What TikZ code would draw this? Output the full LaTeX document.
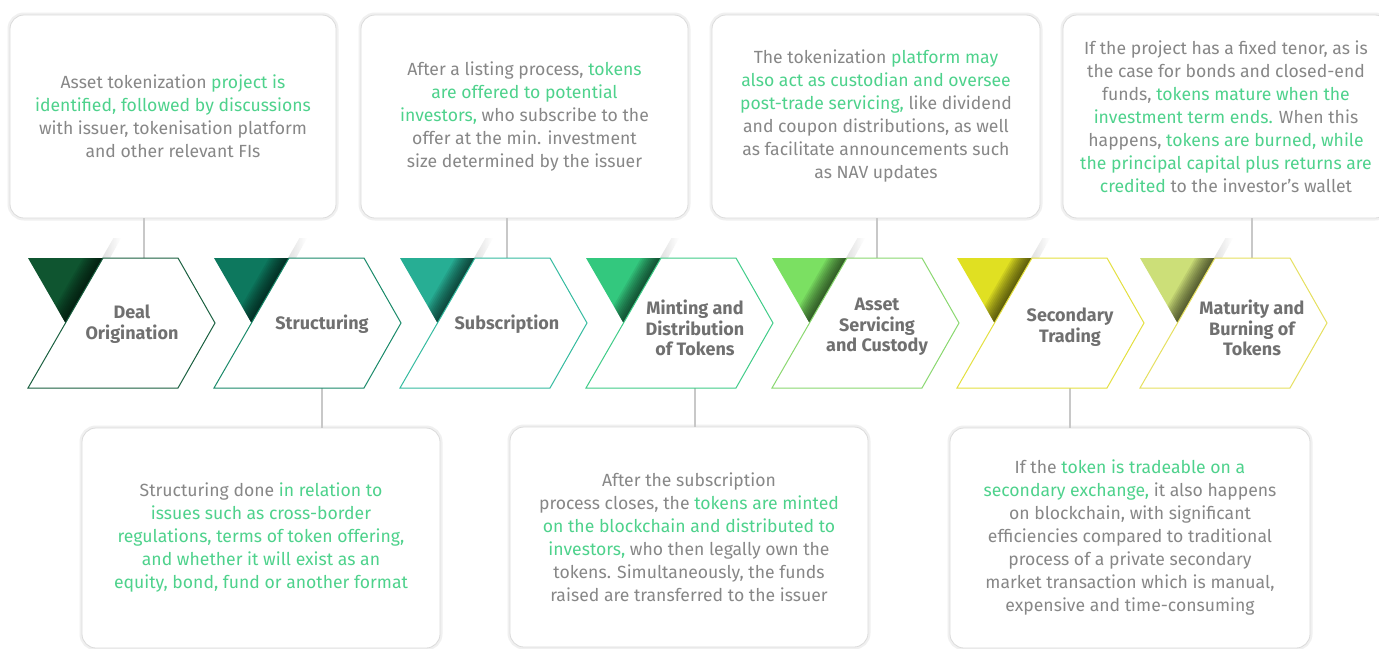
\documentclass[tikz,border=0pt]{standalone}
\usepackage{fontspec}
\setmainfont{Fira Sans}
\definecolor{txt}{HTML}{878787}
\definecolor{hl}{HTML}{4ED28C}
\definecolor{labc}{HTML}{707070}
\definecolor{conc}{HTML}{C8C8C8}
\definecolor{fa}{HTML}{0F5530}\definecolor{la}{HTML}{1A6040}
\definecolor{fb}{HTML}{0D785E}\definecolor{lb}{HTML}{1A8A6A}
\definecolor{fc}{HTML}{27AE94}\definecolor{lc}{HTML}{35BBA0}
\definecolor{fd}{HTML}{33C87E}\definecolor{ld}{HTML}{40CC88}
\definecolor{fe}{HTML}{7BE062}\definecolor{le}{HTML}{8AD870}
\definecolor{ff}{HTML}{E0E022}\definecolor{lf}{HTML}{E4E040}
\definecolor{fg}{HTML}{CCDF78}\definecolor{lg}{HTML}{E6E060}
\newcommand\grn[1]{\textcolor{hl}{#1}}
\newcommand\bodyfont{\fontsize{17.6}{23}\selectfont}
\newcommand\chevron[3]{%
  \begin{scope}[shift={(#1,0)}]
    \shade[left color=black!12, right color=white] (74,258) -- (85.5,238) -- (93,238) -- (82,258) -- cycle;
    \begin{scope}
      \clip (0,258) -- (75,258) -- (37.5,323) -- cycle;
      \fill[#2] (0,256) rectangle (76,324);
      \foreach \d in {2,4,...,20} {\fill[black, opacity=0.08] (75-\d,258) -- (75,258) -- (37.5,323) -- (37.5-\d,323) -- cycle;}
    \end{scope}
    \draw[#3, line width=1pt, line join=miter] (0,388) -- (75,258) -- (150,258) -- (187,323) -- (150,388) -- cycle;
  \end{scope}}
\tikzset{
  box/.style={draw=black!14, line width=0.8pt, fill=white, rounded corners=14pt, inner sep=0pt,
    align=center, text=txt, font=\bodyfont,
    preaction={draw=black!6, line width=5pt}},
  conn/.style={draw=conc, line width=1.8pt},
  lab/.style={font=\bfseries\fontsize{18}{20.5}\selectfont, text=labc, align=center}
}
\begin{document}
\begin{tikzpicture}[x=1pt, y=-1pt]
\useasboundingbox (0,0) rectangle (1379,648);
\clip (0,0) rectangle (1379,648);
\fill[white] (0,0) rectangle (1379,648);

% connector anchor points on chevrons
\coordinate (k1) at (144,258);
\coordinate (k2) at (322,388);
\coordinate (k3) at (507,258);
\coordinate (k4) at (695,388);
\coordinate (k5) at (877,258);
\coordinate (k6) at (1070,388);
\coordinate (k7) at (1252,258);

% boxes
\node[box, minimum width=326pt, minimum height=203pt] (b1) at (173,116.5) {Asset tokenization \grn{project is}\\
\grn{identified, followed by discussions}\\
with issuer, tokenisation platform\\
and other relevant FIs};
\node[box, minimum width=327pt, minimum height=203pt] (b2) at (524.5,116.5) {After a listing process, \grn{tokens}\\
\grn{are offered to potential}\\
\grn{investors,} who subscribe to the\\
offer at the min. investment\\
size determined by the issuer};
\node[box, minimum width=328pt, minimum height=203pt] (b3) at (876,116.5) {The tokenization \grn{platform may}\\
\grn{also act as custodian and oversee}\\
\grn{post-trade servicing,} like dividend\\
and coupon distributions, as well\\
as facilitate announcements such\\
as NAV updates};
\node[box, minimum width=326pt, minimum height=203pt] (b4) at (1226,116.5) {If the project has a fixed tenor, as is\\
the case for bonds and closed-end\\
funds, \grn{tokens mature when the}\\
\grn{investment term ends.} When this\\
happens, \grn{tokens are burned, while}\\
\grn{the principal capital plus returns are}\\
\grn{credited} to the investor’s wallet};
\node[box, minimum width=358pt, minimum height=220pt] (b5) at (261,538) {Structuring done \grn{in relation to}\\
\grn{issues such as cross-border}\\
\grn{regulations, terms of token offering,}\\
\grn{and whether it will exist as an}\\
\grn{equity, bond, fund or another format}};
\node[box, minimum width=358pt, minimum height=220pt] (b6) at (689,537) {After the subscription\\
process closes, the \grn{tokens are minted}\\
\grn{on the blockchain and distributed to}\\
\grn{investors,} who then legally own the\\
tokens. Simultaneously, the funds\\
raised are transferred to the issuer};
\node[box, minimum width=360pt, minimum height=220pt] (b7) at (1130,538) {If the \grn{token is tradeable on a}\\
\grn{secondary exchange,} it also happens\\
on blockchain, with significant\\
efficiencies compared to traditional\\
process of a private secondary\\
market transaction which is manual,\\
expensive and time-consuming};

% connectors
\draw[conn] (b1.south -| k1) -- (k1);
\draw[conn] (b2.south -| k3) -- (k3);
\draw[conn] (b3.south -| k5) -- (k5);
\draw[conn] (b4.south -| k7) -- (k7);
\draw[conn] (k2) -- (k2 |- b5.north);
\draw[conn] (k4) -- (k4 |- b6.north);
\draw[conn] (k6) -- (k6 |- b7.north);

% chevrons
\chevron{28}{fa}{la}
\chevron{214}{fb}{lb}
\chevron{400}{fc}{lc}
\chevron{586}{fd}{ld}
\chevron{772}{fe}{le}
\chevron{957}{ff}{lf}
\chevron{1140}{fg}{lg}

\node[lab] (c1) at (132,324) {Deal\\Origination};
\node[lab] (c2) at (322,324) {Structuring};
\node[lab] (c3) at (507,324) {Subscription};
\node[lab] (c4) at (695,328) {Minting and\\Distribution\\of Tokens};
\node[lab] (c5) at (877,327) {Asset\\Servicing\\and Custody};
\node[lab] (c6) at (1070,327) {Secondary\\Trading};
\node[lab] (c7) at (1252,328) {Maturity and\\Burning of\\Tokens};
\end{tikzpicture}
\end{document}
